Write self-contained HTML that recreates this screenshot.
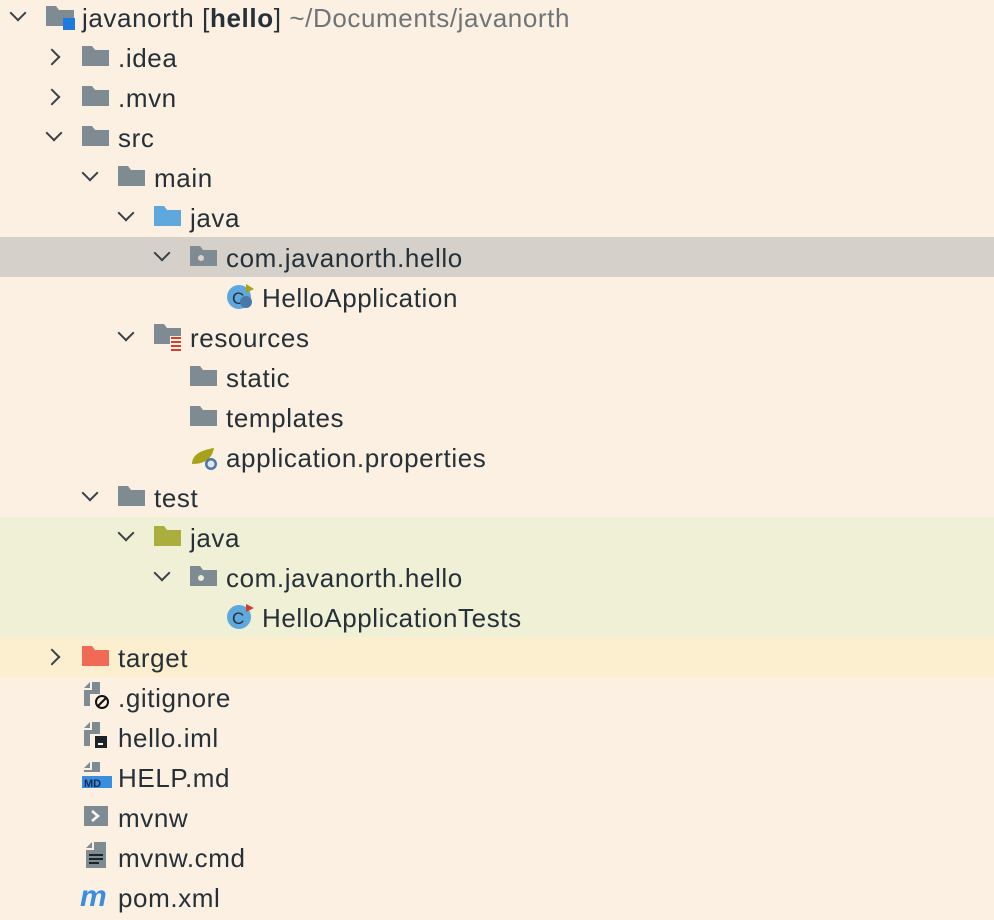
<!DOCTYPE html>
<html><head><meta charset="utf-8"><style>
body{margin:0;width:994px;height:920px;background:#fbf0e2;position:relative;overflow:hidden;font-family:"Liberation Sans",sans-serif;}
.band{position:absolute;left:0;width:994px;}
.r{position:absolute;height:40px;line-height:40px;font-size:26px;letter-spacing:0.6px;color:#263038;white-space:nowrap;}
.ch{position:absolute;width:10px;height:10px;border-right:2px solid #3a4148;border-bottom:2px solid #3a4148;}
.dn{transform:rotate(45deg);}
.rt{transform:rotate(-45deg);}
svg{position:absolute;}
</style></head><body>
<div class="band" style="top:237px;height:40px;background:#d5d1ca"></div>
<div class="band" style="top:517px;height:120px;background:#eff0d6"></div>
<div class="band" style="top:637px;height:40px;background:#fcefd0"></div>

<!-- chevrons -->
<div class="ch dn" style="left:12px;top:7px"></div>
<div class="ch rt" style="left:46px;top:51px"></div>
<div class="ch rt" style="left:46px;top:91px"></div>
<div class="ch dn" style="left:48px;top:127px"></div>
<div class="ch dn" style="left:84px;top:167px"></div>
<div class="ch dn" style="left:120px;top:207px"></div>
<div class="ch dn" style="left:156px;top:247px"></div>
<div class="ch dn" style="left:120px;top:327px"></div>
<div class="ch dn" style="left:84px;top:487px"></div>
<div class="ch dn" style="left:120px;top:527px"></div>
<div class="ch dn" style="left:156px;top:567px"></div>
<div class="ch rt" style="left:46px;top:651px"></div>

<!-- icons -->
<svg style="left:46px;top:4px" width="32" height="30"><path d="M0 2h10l3 4h15v16H0z" fill="#7f8b93"/><rect x="17" y="14" width="12" height="12" fill="#1f7ae0"/></svg>
<svg style="left:82px;top:46px" width="28" height="22"><path d="M0 0h10l3 4h14v16H0z" fill="#7f8b93"/></svg>
<svg style="left:82px;top:86px" width="28" height="22"><path d="M0 0h10l3 4h14v16H0z" fill="#7f8b93"/></svg>
<svg style="left:82px;top:126px" width="28" height="22"><path d="M0 0h10l3 4h14v16H0z" fill="#7f8b93"/></svg>
<svg style="left:118px;top:166px" width="28" height="22"><path d="M0 0h10l3 4h14v16H0z" fill="#7f8b93"/></svg>
<svg style="left:154px;top:206px" width="28" height="22"><path d="M0 0h10l3 4h14v16H0z" fill="#5ea8dd"/></svg>
<svg style="left:190px;top:246px" width="28" height="22"><path d="M0 0h10l3 4h14v16H0z" fill="#7f8b93"/><circle cx="11" cy="12" r="3" fill="#d9d3c8"/></svg>
<svg style="left:226px;top:282px" width="32" height="30"><circle cx="13" cy="15" r="12" fill="#5ea8dd"/><text x="6" y="22" font-size="17" font-family="Liberation Sans" fill="#263038">C</text><circle cx="20" cy="20" r="6" fill="#4a78a8"/><path d="M20 2l8 5-8 4z" fill="#a8a21a"/></svg>
<svg style="left:154px;top:324px" width="32" height="28"><path d="M0 0h10l3 4h14v16H0z" fill="#7f8b93"/><rect x="16" y="12" width="12" height="14" fill="#fbf0e2"/><g fill="#d63c2c"><rect x="17" y="13" width="10" height="2"/><rect x="17" y="17" width="10" height="2"/><rect x="17" y="21" width="10" height="2"/><rect x="17" y="25" width="10" height="2"/></g></svg>
<svg style="left:190px;top:366px" width="28" height="22"><path d="M0 0h10l3 4h14v16H0z" fill="#7f8b93"/></svg>
<svg style="left:190px;top:406px" width="28" height="22"><path d="M0 0h10l3 4h14v16H0z" fill="#7f8b93"/></svg>
<svg style="left:190px;top:444px" width="32" height="28"><path d="M2 20C2 10 12 6 24 4 22 14 16 20 2 20z" fill="#a8a21a"/><circle cx="21" cy="20" r="6" fill="#4a78a8"/><circle cx="21" cy="20" r="3.5" fill="#e0e6ee"/></svg>
<svg style="left:118px;top:486px" width="28" height="22"><path d="M0 0h10l3 4h14v16H0z" fill="#7f8b93"/></svg>
<svg style="left:154px;top:526px" width="28" height="22"><path d="M0 0h10l3 4h14v16H0z" fill="#a9ae3c"/></svg>
<svg style="left:190px;top:566px" width="28" height="22"><path d="M0 0h10l3 4h14v16H0z" fill="#7f8b93"/><circle cx="11" cy="12" r="3" fill="#ecedd4"/></svg>
<svg style="left:226px;top:602px" width="32" height="30"><circle cx="13" cy="15" r="12" fill="#5ea8dd"/><text x="6" y="22" font-size="17" font-family="Liberation Sans" fill="#263038">C</text><path d="M20 2l8 4-8 4z" fill="#d63c2c"/></svg>
<svg style="left:82px;top:646px" width="28" height="22"><path d="M0 0h10l3 4h14v16H0z" fill="#f06a56"/></svg>
<svg style="left:84px;top:682px" width="28" height="30"><path d="M6 0v6H0zM8 0h8v12H6v12H0V8h8z" fill="#7f8b93"/><circle cx="18" cy="20" r="6" fill="none" stroke="#111" stroke-width="2"/><path d="M14 24l8-8" stroke="#111" stroke-width="2"/></svg>
<svg style="left:84px;top:722px" width="28" height="30"><path d="M6 0v6H0zM8 0h8v12H6v12H0V8h8z" fill="#7f8b93"/><rect x="11" y="14" width="12" height="12" fill="#1b2228"/><rect x="14" y="21" width="5" height="2" fill="#fff"/></svg>
<svg style="left:82px;top:762px" width="30" height="30"><path d="M8 0v6H2zM10 0h8v10H2V8h8z" fill="#7f8b93"/><rect x="0" y="14" width="30" height="12" fill="#3a8ee0"/><text x="2" y="25" font-size="11" font-weight="bold" font-family="Liberation Sans" fill="#1b2a4a">MD</text></svg>
<svg style="left:84px;top:806px" width="24" height="22"><rect width="24" height="20" fill="#7f8b93"/><path d="M8 5l6 5-6 5" stroke="#fff" stroke-width="2.5" fill="none"/></svg>
<svg style="left:86px;top:842px" width="24" height="30"><path d="M6 0v6H0zM8 0h12v26H0V8h8z" fill="#7f8b93"/><g fill="#1b2228"><rect x="3" y="12" width="14" height="2"/><rect x="3" y="16" width="14" height="2"/><rect x="3" y="20" width="10" height="2"/></g></svg>
<div class="r" style="left:80px;top:877px;font-size:30px;font-weight:bold;font-style:italic;color:#3a8ee0;">m</div>

<!-- labels -->
<div class="r" style="left:82px;top:-2px">javanorth [<b>hello</b>] <span style="color:#6f7478">~/Documents/javanorth</span></div>
<div class="r" style="left:118px;top:38px">.idea</div>
<div class="r" style="left:118px;top:78px">.mvn</div>
<div class="r" style="left:118px;top:118px">src</div>
<div class="r" style="left:154px;top:158px">main</div>
<div class="r" style="left:190px;top:198px">java</div>
<div class="r" style="left:226px;top:238px">com.javanorth.hello</div>
<div class="r" style="left:262px;top:278px">HelloApplication</div>
<div class="r" style="left:190px;top:318px">resources</div>
<div class="r" style="left:226px;top:358px">static</div>
<div class="r" style="left:226px;top:398px">templates</div>
<div class="r" style="left:226px;top:438px">application.properties</div>
<div class="r" style="left:154px;top:478px">test</div>
<div class="r" style="left:190px;top:518px">java</div>
<div class="r" style="left:226px;top:558px">com.javanorth.hello</div>
<div class="r" style="left:262px;top:598px">HelloApplicationTests</div>
<div class="r" style="left:118px;top:638px">target</div>
<div class="r" style="left:118px;top:678px">.gitignore</div>
<div class="r" style="left:118px;top:718px">hello.iml</div>
<div class="r" style="left:118px;top:758px">HELP.md</div>
<div class="r" style="left:118px;top:798px">mvnw</div>
<div class="r" style="left:118px;top:838px">mvnw.cmd</div>
<div class="r" style="left:118px;top:878px">pom.xml</div>
</body></html>
